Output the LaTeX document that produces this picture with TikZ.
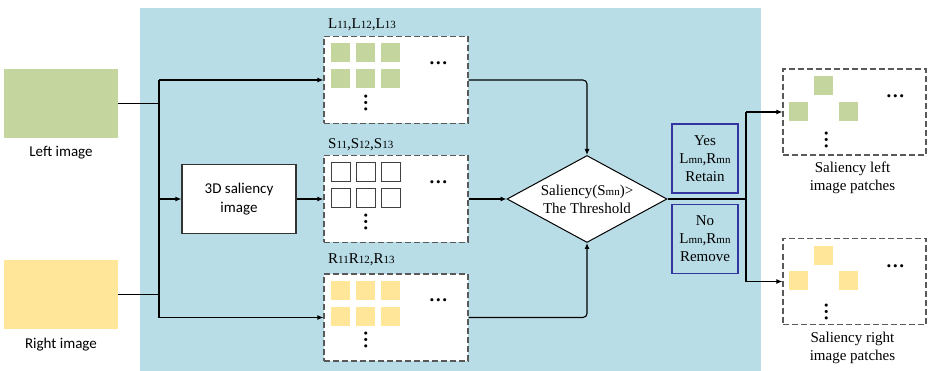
\documentclass[tikz,border=0pt]{standalone}
\usepackage{fontspec}
\setmainfont{Liberation Serif}
\newfontfamily\calib{Carlito}
\usetikzlibrary{shapes.geometric,arrows.meta,calc}

\definecolor{panelblue}{RGB}{184,221,231}
\definecolor{leftgreen}{RGB}{196,214,158}
\definecolor{rightyellow}{RGB}{255,230,153}
\definecolor{decblue}{RGB}{52,52,160}

% smaller index letters set on the baseline
\newcommand{\idx}[1]{{\fontsize{11}{11}\selectfont #1}}

\tikzset{
  conn/.style={draw=black, line width=1.1pt},
  arr/.style={conn, -{Latex[length=6pt,width=5pt]}},
  srcimg/.style={minimum width=114pt, minimum height=69pt, inner sep=0pt},
  sanslabel/.style={font=\calib\fontsize{15}{19}\selectfont, align=center, inner sep=0pt},
  tlabel/.style={font=\fontsize{15}{18}\selectfont, align=center, inner sep=0pt},
  patchbox/.style={draw=black!65, dash pattern=on 6pt off 3pt, line width=1.2pt,
    fill=white, minimum width=144pt, minimum height=87pt, inner sep=0pt},
  outbox/.style={patchbox, minimum width=143pt, minimum height=86pt},
  decision/.style={draw=decblue, line width=1.2pt, minimum width=66pt,
    minimum height=69pt, inner sep=0pt, tlabel},
  hdots/.style={font=\bfseries\fontsize{19}{19}\selectfont, inner sep=0pt},
  vdots/.style={hdots, rotate=90},
}

% a 3x2 grid of patch squares inside a patch box
\newcommand{\patchgrid}[2]{%
  \foreach \cx in {17.5,42.5,67.5}{
    \foreach \cy in {17,43}{
      \path[#2] ($(#1.north west)+(\cx-9.5,\cy-9.5)$) rectangle ++(19,19);
    }
  }%
  \node[hdots] at ($(#1.north west)+(115,27)$) {…};
  \node[vdots] at ($(#1.north west)+(42.5,67)$) {…};
}

% three retained patches inside an output box
\newcommand{\keptpatches}[3]{%
  \foreach \cx/\cy in {41.5/17.5,16/43,66/43}{
    \path[fill=#2] ($(#1.north west)+(\cx-9.5,\cy-9.5)$) rectangle ++(19,19);
  }%
  \node[hdots] at ($(#1.north west)+(113,28)$) {…};
  \node[vdots] at ($(#1.north west)+(44,#3)$) {…};
}

\begin{document}
\begin{tikzpicture}[x=1pt, y=-1pt]
  \useasboundingbox (0,0) rectangle (928,371);

  % processing panel
  \fill[panelblue] (140,8) rectangle (761,371);

  % input images
  \node[srcimg, fill=leftgreen] (limg) at (61,103.5) {};
  \node[sanslabel] (limgtxt) at (61,153) {Left image};
  \node[srcimg, fill=rightyellow] (rimg) at (61,294.5) {};
  \node[sanslabel] (rimgtxt) at (61,345) {Right image};

  % 3D saliency block
  \node[draw=black!80, line width=1.1pt, fill=white, minimum width=114pt,
        minimum height=69pt, inner sep=0pt, sanslabel] (sal3d) at (239,199)
        {3D saliency\\image};

  % patch boxes
  \node[patchbox] (Lbox) at (396,80) {};
  \node[patchbox] (Sbox) at (396,199) {};
  \node[patchbox] (Rbox) at (396,317.5) {};
  \node[tlabel, anchor=west] (Llab) at (328,25) {L\idx{11},L\idx{12},L\idx{13}};
  \node[tlabel, anchor=west] (Slab) at (328,145) {S\idx{11},S\idx{12},S\idx{13}};
  \node[tlabel, anchor=west] (Rlab) at (328,260) {R\idx{11}R\idx{12},R\idx{13}};
  \patchgrid{Lbox}{fill=leftgreen}
  \patchgrid{Sbox}{draw=black!75, line width=1.1pt, fill=white}
  \patchgrid{Rbox}{fill=rightyellow}

  % distribution trunk
  \coordinate (tTop) at (159,80);
  \coordinate (tMid) at (159,199);
  \coordinate (tBot) at (159,317.5);
  \draw[conn] (limg.east) -- (limg.east -| tTop);
  \draw[conn] (rimg.east) -- (rimg.east -| tTop);
  \draw[conn] (tTop) -- (tBot);
  \draw[arr] (tTop) -- (Lbox.west);
  \draw[arr] (tMid) -- (sal3d.west);
  \draw[arr] (tBot) -- (Rbox.west);
  \draw[arr] (sal3d.east) -- (Sbox.west);

  % decision
  \node[draw=black, line width=1pt, fill=white, diamond, aspect=1.84,
        minimum width=160pt, minimum height=87pt, inner sep=0pt, tlabel]
        (dia) at (587,199) {Saliency(S\idx{mn})>\\The Threshold};
  \draw[arr, rounded corners=4pt] (Lbox.east) -| (dia.north);
  \draw[arr, rounded corners=4pt] (Rbox.east) -| (dia.south);
  \draw[arr] (Sbox.east) -- (dia.west);

  % outcomes
  \node[decision] (yes) at (705,158.5) {Yes\\L\idx{mn},R\idx{mn}\\Retain};
  \node[decision] (no) at (705,239) {No\\L\idx{mn},R\idx{mn}\\Remove};

  % output patch boxes
  \node[outbox] (SLbox) at (854.5,112) {};
  \node[outbox] (SRbox) at (854.5,281.5) {};
  \keptpatches{SLbox}{leftgreen}{72}
  \keptpatches{SRbox}{rightyellow}{74}
  \node[tlabel, anchor=north] (SLlab) at ($(SLbox.south)+(-2,6)$) {Saliency left\\image patches};
  \node[tlabel, anchor=north] (SRlab) at ($(SRbox.south)+(-2,7)$) {Saliency right\\image patches};

  % split to outputs
  \coordinate (sp) at (746,199);
  \coordinate (spTop) at (746,112);
  \coordinate (spBot) at (746,281.5);
  \draw[conn] (dia.east) -- (sp);
  \draw[conn] (spTop) -- (spBot);
  \draw[arr] (spTop) -- (SLbox.west);
  \draw[arr] (spBot) -- (SRbox.west);
\end{tikzpicture}
\end{document}
